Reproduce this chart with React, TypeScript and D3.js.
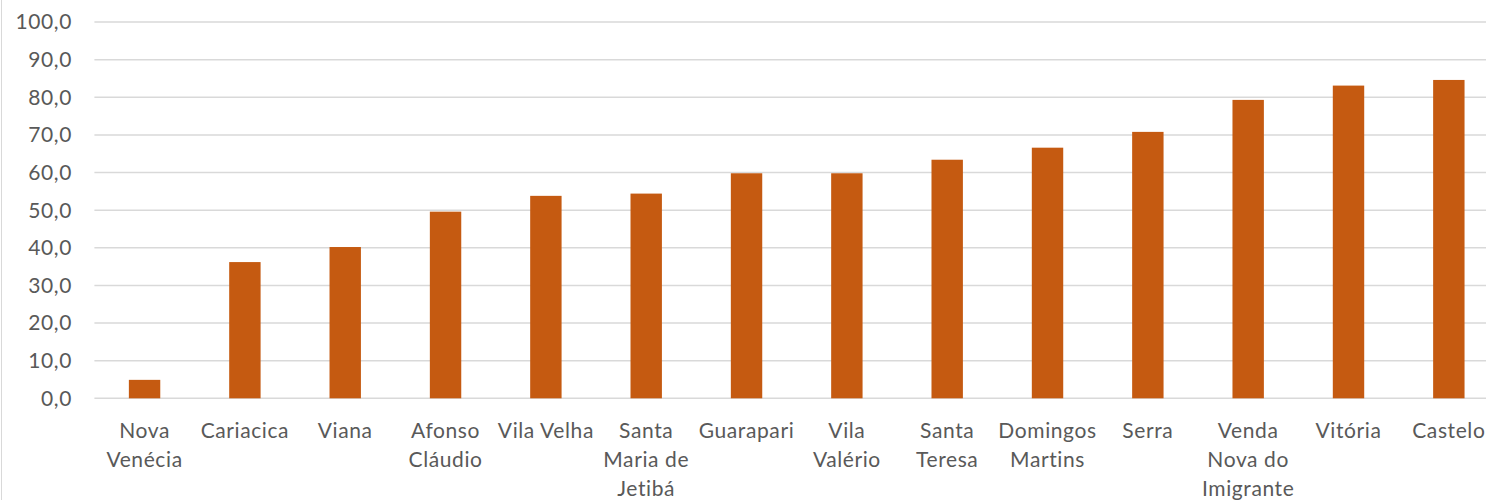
import React from "react";
import * as d3 from "d3";

const categories = [
  "Nova Venécia", "Cariacica", "Viana", "Afonso Cláudio", "Vila Velha",
  "Santa Maria de Jetibá", "Guarapari", "Vila Valério", "Santa Teresa",
  "Domingos Martins", "Serra", "Venda Nova do Imigrante", "Vitória", "Castelo",
];
const values = [4.9, 36.2, 40.2, 49.6, 53.8, 54.4, 59.8, 59.8, 63.4, 66.6, 70.8, 79.3, 83.1, 84.6];
const tickLabels = [
  ["Nova", "Venécia"], ["Cariacica"], ["Viana"], ["Afonso", "Cláudio"], ["Vila Velha"],
  ["Santa", "Maria de", "Jetibá"], ["Guarapari"], ["Vila", "Valério"], ["Santa", "Teresa"],
  ["Domingos", "Martins"], ["Serra"], ["Venda", "Nova do", "Imigrante"], ["Vitória"], ["Castelo"],
];
const yTicks = [0, 10, 20, 30, 40, 50, 60, 70, 80, 90, 100];

const W = 1486;
const H = 500;
const FONT = "Lato, 'Open Sans', sans-serif";

export default function App() {
  const x = d3.scaleBand<string>().domain(categories).range([94.4, 1499]).paddingInner(0.687).paddingOuter(0.3435);
  const y = d3.scaleLinear().domain([0, 100]).range([398.3, 22]);
  const fmt = (v: number) => d3.format(".1f")(v).replace(".", ",");

  return (
    <div style={{ position: "fixed", left: 0, top: 0, width: W, height: H, background: "#fff" }}>
      <svg width={W} height={H} style={{ display: "block" }}>
        <rect x={0} y={0} width={W} height={H} fill="#fff" />
        <line x1={1.5} x2={1.5} y1={0} y2={H} stroke="#d9d9d9" strokeWidth={1} />
        {yTicks.map((t) => (
          <g key={t}>
            <line x1={94.4} x2={W} y1={y(t)} y2={y(t)} stroke="#d9d9d9" strokeWidth={1.5} />
            <text x={72} y={y(t)} dy="0.35em" textAnchor="end" fontFamily={FONT} fontSize={21} letterSpacing={0.6} fill="#595959">
              {fmt(t)}
            </text>
          </g>
        ))}
        {categories.map((c, i) => (
          <rect key={c} x={x(c)} y={y(values[i])} width={x.bandwidth()} height={y(0) - y(values[i])} fill="#C55A11" />
        ))}
        {categories.map((c, i) => (
          <text key={c} x={(x(c) as number) + x.bandwidth() / 2} y={431} textAnchor="middle" fontFamily={FONT} fontSize={21} letterSpacing={0.6} fill="#595959">
            {tickLabels[i].map((line, j) => (
              <tspan key={j} x={(x(c) as number) + x.bandwidth() / 2} dy={j === 0 ? "0.35em" : 29}>{line}</tspan>
            ))}
          </text>
        ))}
      </svg>
    </div>
  );
}
